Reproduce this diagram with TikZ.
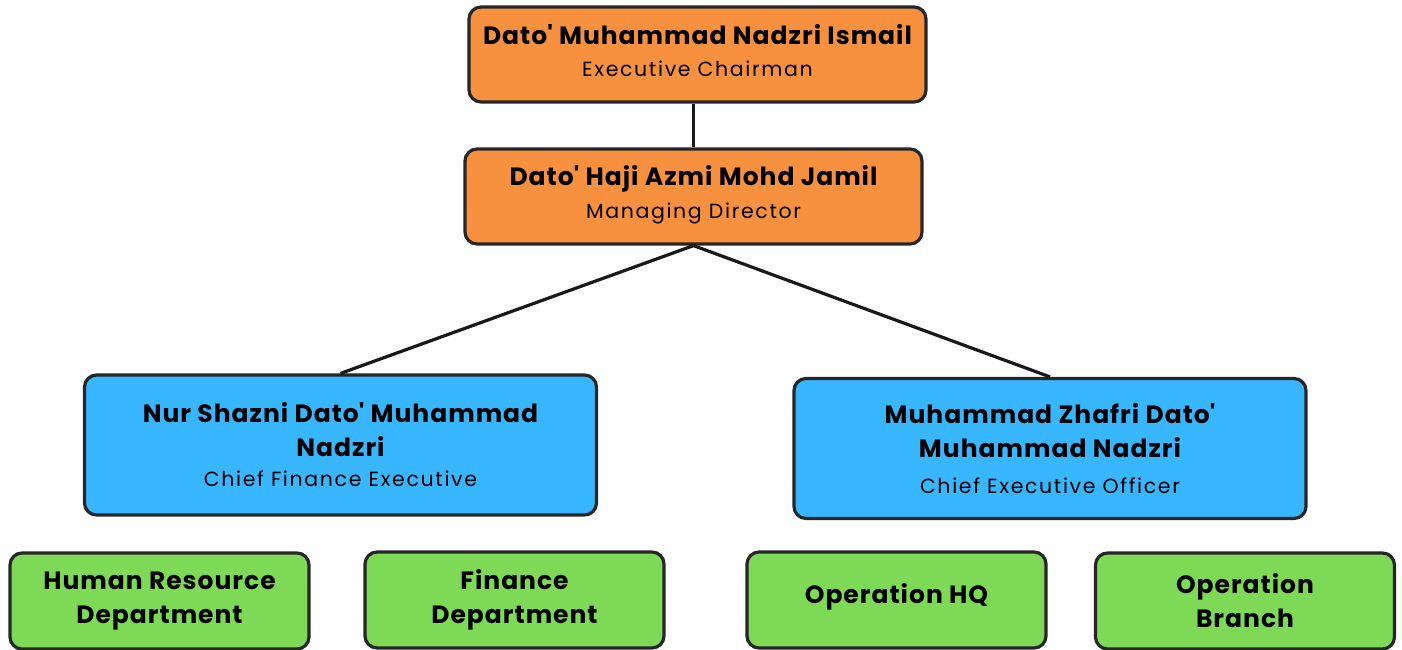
\documentclass[tikz,border=0pt]{standalone}
\usepackage{fontspec}
\setmainfont{Poppins}
\newfontfamily\headfont[LetterSpace=4]{Poppins}
\newfontfamily\rolefont[LetterSpace=8]{Poppins}
\usetikzlibrary{positioning}
\definecolor{orgorange}{HTML}{F8913F}
\definecolor{orgblue}{HTML}{38B6FF}
\definecolor{orggreen}{HTML}{7ED957}
\newcommand{\boxrole}[1]{{\rolefont\mdseries\fontsize{20.5}{20}\selectfont #1}}
\tikzset{
      org box/.style={
		draw=black!85,
		line width=3.2pt,
		rounded corners=12pt,
		minimum width={#1pt},
		align=center,
		inner sep=0pt,
		font=\headfont\bfseries\fontsize{25}{34}\selectfont,
	  },
      orange box/.style={org box=457, fill=orgorange, minimum height=95pt, text depth=9pt},
      blue box/.style={org box=512, fill=orgblue, minimum height=140pt},
      green box/.style={org box=299, fill=orggreen, minimum height=96pt},
  		link/.style={
    	line width=3.2pt, draw=black!90,
      }
  	}

\begin{document}
\begin{tikzpicture}[x=1pt, y=-1pt]
    \useasboundingbox (0,0) rectangle (1402,650);
    \node [orange box] (chair) at (697.5,54.5) {Dato\textquotesingle{} Muhammad Nadzri Ismail\\[-2pt] \boxrole{Executive Chairman}};
    \node [orange box] (md) at (693.5,196.5) {Dato\textquotesingle{} Haji Azmi Mohd Jamil\\[-1pt] \boxrole{Managing Director}};
    \node [blue box] (cfe) at (340.5,445) {Nur Shazni Dato\textquotesingle{} Muhammad\\ Nadzri\\[-4pt] \boxrole{Chief Finance Executive}};
    \node [blue box] (ceo) at (1050,448.5) {Muhammad Zhafri Dato\textquotesingle{}\\ Muhammad Nadzri\\[2pt] \boxrole{Chief Executive Officer}};
    \node [green box] (hr) at (159.5,601) {Human Resource\\ Department};
    \node [green box] (fin) at (514.5,600) {Finance\\ Department};
    \node [green box, text depth=14pt] (ophq) at (896.5,600) {Operation HQ};
    \node [green box] (opbr) at (1245,601) {Operation\\ Branch};
    \draw [link] (md.north |- chair.south) -- (md.north);
    \draw [link] (md.south) -- (cfe.north);
    \draw [link] (md.south) -- (ceo.north);
  \end{tikzpicture}
\end{document}
